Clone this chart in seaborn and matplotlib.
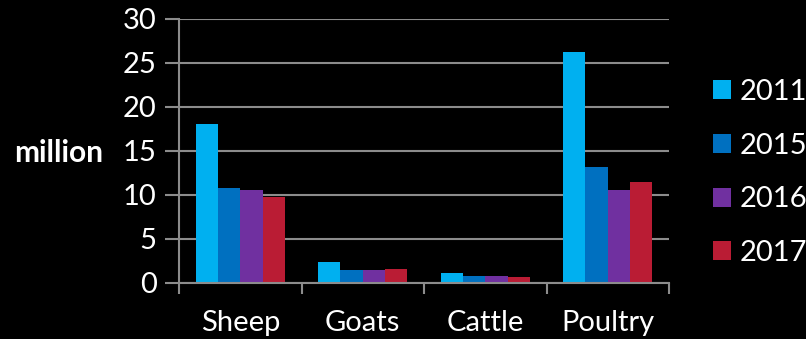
import matplotlib
matplotlib.use("Agg")
import matplotlib.pyplot as plt
import seaborn as sns
import pandas as pd
import numpy as np

categories = ["Sheep", "Goats", "Cattle", "Poultry"]
years = ["2011", "2015", "2016", "2017"]
values_2011 = [18.0, 2.3, 1.1, 26.2]
values_2015 = [10.8, 1.4, 0.8, 13.2]
values_2016 = [10.5, 1.4, 0.75, 10.5]
values_2017 = [9.8, 1.6, 0.65, 11.5]
y_ticks = [0, 5, 10, 15, 20, 25, 30]

colors = ["#00B0F0", "#0070C0", "#7030A0", "#BA1C34"]

series = [values_2011, values_2015, values_2016, values_2017]
rows = []
for yr, vals in zip(years, series):
    for cat, v in zip(categories, vals):
        rows.append({"category": cat, "year": yr, "value": v})
df = pd.DataFrame(rows)

sns.set_theme(style="dark")
plt.rcParams["font.family"] = ["Lato", "DejaVu Sans"]

grid_col = "#8C8C8C"
fig = plt.figure(figsize=(8.06, 3.39), dpi=100, facecolor="black")
ax = fig.add_axes([179 / 806, 1 - 282.7 / 339, (669 - 179) / 806, (282.7 - 19) / 339])
ax.set_facecolor("black")

sns.barplot(data=df, x="category", y="value", hue="year", order=categories,
            hue_order=years, palette=colors, width=0.727, gap=0,
            saturation=1, ax=ax, legend=True, linewidth=0)

ax.set_ylim(0, 30)
ax.set_xlim(-0.5, 3.5)
ax.set_yticks(y_ticks)
ax.set_yticklabels([str(t) for t in y_ticks], color="white", fontsize=21)
ax.yaxis.grid(True, color=grid_col, linewidth=1.5)
ax.xaxis.grid(False)
ax.set_axisbelow(True)
ax.tick_params(axis="y", length=10, width=1.5, color=grid_col, pad=6, left=True)

ax.set_xticks(range(len(categories)))
ax.set_xticklabels(categories, color="white", fontsize=21)
ax.tick_params(axis="x", which="major", length=0, pad=20)
ax.set_xticks(np.arange(-0.5, 4.0, 1.0), minor=True)
ax.tick_params(axis="x", which="minor", length=8, width=1.5, color=grid_col, bottom=True)

for side in ["top", "right"]:
    ax.spines[side].set_visible(False)
for side in ["left", "bottom"]:
    ax.spines[side].set_color(grid_col)
    ax.spines[side].set_linewidth(1.5)

ax.set_xlabel("")
ax.set_ylabel("million", color="white", fontsize=21.5, fontweight="bold",
              rotation=0, labelpad=0, ha="right", va="center")
ax.yaxis.set_label_coords((103 - 179) / 490, (282.7 - 153) / 263.7)

handles, labels = ax.get_legend_handles_labels()
ax.get_legend().remove()
leg = fig.legend(handles, labels, loc="center left",
                 bbox_to_anchor=(713 / 806, 1 - 172.5 / 339),
                 frameon=False, fontsize=21, handlelength=0.62, handleheight=0.62,
                 handletextpad=0.3, labelspacing=0.95, borderpad=0,
                 borderaxespad=0)
for t in leg.get_texts():
    t.set_color("white")

fig.savefig("out.png", dpi=100, facecolor="black")
